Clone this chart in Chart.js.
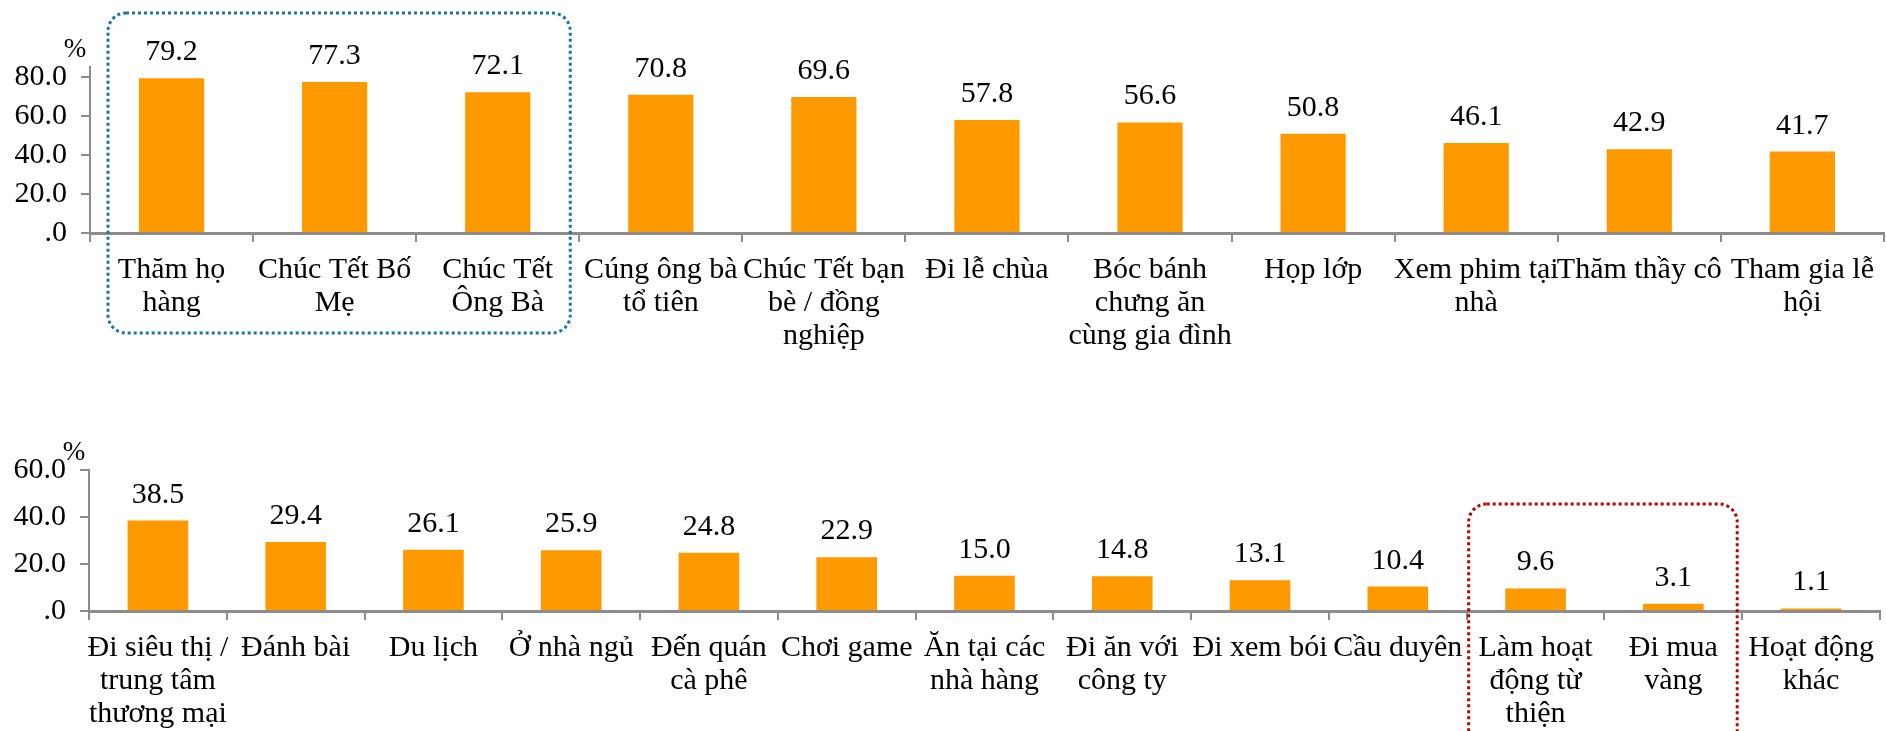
<!DOCTYPE html>
<html>
<head>
<meta charset="utf-8">
<script src="https://cdn.jsdelivr.net/npm/chart.js@4"></script>
<style>
  html, body { margin: 0; padding: 0; background: #fff; overflow: hidden; }
  #wrap { position: relative; width: 1886px; height: 731px; }
  .box { position: absolute; left: 0; width: 1886px; }
</style>
</head>
<body>
<div id="wrap">
  <div class="box" style="top:0;height:400px"><canvas id="chartTop"></canvas></div>
  <div class="box" style="top:400px;height:331px"><canvas id="chartBottom"></canvas></div>
</div>
<script>
// top chart data
const topLabels = [
    ["Thăm họ", "hàng"],
    ["Chúc Tết Bố", "Mẹ"],
    ["Chúc Tết", "Ông Bà"],
    ["Cúng ông bà", "tổ tiên"],
    ["Chúc Tết bạn", "bè / đồng", "nghiệp"],
    ["Đi lễ chùa"],
    ["Bóc bánh", "chưng ăn", "cùng gia đình"],
    ["Họp lớp"],
    ["Xem phim tại", "nhà"],
    ["Thăm thầy cô"],
    ["Tham gia lễ", "hội"]
];
const topValues = [79.2, 77.3, 72.1, 70.8, 69.6, 57.8, 56.6, 50.8, 46.1, 42.9, 41.7];
const topTicks = [0, 20, 40, 60, 80];

// bottom chart data
const bottomLabels = [
    ["Đi siêu thị /", "trung tâm", "thương mại"],
    ["Đánh bài"],
    ["Du lịch"],
    ["Ở nhà ngủ"],
    ["Đến quán", "cà phê"],
    ["Chơi game"],
    ["Ăn tại các", "nhà hàng"],
    ["Đi ăn với", "công ty"],
    ["Đi xem bói"],
    ["Cầu duyên"],
    ["Làm hoạt", "động từ", "thiện"],
    ["Đi mua", "vàng"],
    ["Hoạt động", "khác"]
];
const bottomValues = [38.5, 29.4, 26.1, 25.9, 24.8, 22.9, 15.0, 14.8, 13.1, 10.4, 9.6, 3.1, 1.1];
const bottomTicks = [0, 20, 40, 60];

const topMax = 85;
const bottomMax = 60;

const FONT = "'Liberation Serif', 'Times New Roman', serif";
const AXIS = '#8c8c8c';
const BAR = '#FF9900';

// value labels above bars, plus the % unit and the dotted highlight boxes
const extrasPlugin = {
    id: 'extras',
    afterDatasetsDraw(chart, args, opts) {
        const ctx = chart.ctx;
        const area = chart.chartArea;
        const meta = chart.getDatasetMeta(0);
        ctx.save();
        ctx.fillStyle = '#000';
        ctx.font = '30px ' + FONT;
        ctx.textAlign = 'center';
        ctx.textBaseline = 'alphabetic';
        meta.data.forEach(function (bar, i) {
            const v = chart.data.datasets[0].data[i];
            ctx.fillText(v.toFixed(1), bar.x, bar.y - 18);
        });
        // unit
        ctx.font = '27px ' + FONT;
        ctx.fillText('%', area.left - 15, area.top - 10);

        // dotted box
        if (opts.box) {
            const b = opts.box;
            const xs = chart.scales.x;
            const w = xs.width / chart.data.labels.length;
            const left = xs.getPixelForValue(b.from) - w / 2 + b.padL;
            const right = xs.getPixelForValue(b.to) + w / 2 - b.padR;
            const top = area.top + b.top;
            const bottom = area.bottom + b.bottom;
            ctx.strokeStyle = b.color;
            ctx.lineWidth = 3;
            ctx.setLineDash([3, 3]);
            ctx.beginPath();
            ctx.roundRect(left, top, right - left, bottom - top, 18);
            ctx.stroke();
        }
        ctx.restore();
    }
};

function makeChart(id, labels, values, max, tickValues, opts) {
    const ctx = document.getElementById(id).getContext('2d');
    return new Chart(ctx, {
        type: 'bar',
        data: {
            labels: labels,
            datasets: [{
                data: values,
                backgroundColor: BAR,
                barPercentage: opts.barPct,
                categoryPercentage: 1
            }]
        },
        options: {
            responsive: true,
            maintainAspectRatio: false,
            animation: false,
            layout: { padding: { top: opts.padTop, left: 0, right: 0, bottom: 0 } },
            plugins: {
                legend: { display: false },
                title: { display: false },
                tooltip: { enabled: false },
                extras: { box: opts.box }
            },
            scales: {
                x: {
                    grid: {
                        display: true,
                        drawOnChartArea: false,
                        drawTicks: true,
                        tickLength: 9,
                        color: AXIS,
                        lineWidth: 2
                    },
                    border: { color: AXIS, width: 3 },
                    ticks: {
                        autoSkip: false,
                        maxRotation: 0,
                        minRotation: 0,
                        padding: 12,
                        color: '#000',
                        font: { family: FONT, size: 30, lineHeight: 1.1 }
                    },
                    afterFit: function (scale) { scale.height = opts.xHeight; }
                },
                y: {
                    min: 0,
                    max: max,
                    grid: {
                        display: true,
                        drawOnChartArea: false,
                        drawTicks: true,
                        tickLength: 9,
                        color: AXIS,
                        lineWidth: 2
                    },
                    border: { color: AXIS, width: 2 },
                    afterBuildTicks: function (scale) {
                        scale.ticks = tickValues.map(function (v) { return { value: v }; });
                    },
                    ticks: {
                        padding: 14,
                        color: '#000',
                        font: { family: FONT, size: 30 },
                        callback: function (v) {
                            return v === 0 ? '.0' : v.toFixed(1);
                        }
                    },
                    afterFit: function (scale) { scale.width = opts.yWidth; }
                }
            }
        },
        plugins: [extrasPlugin]
    });
}

makeChart('chartTop', topLabels, topValues, topMax, topTicks, {
    barPct: 0.4,
    padTop: 67,
    xHeight: 167,
    yWidth: 90,
    box: { from: 0, to: 2, padL: 18, padR: 9, top: -54, bottom: 100, color: '#1A76A8' }
});

makeChart('chartBottom', bottomLabels, bottomValues, bottomMax, bottomTicks, {
    barPct: 0.44,
    padTop: 70,
    xHeight: 120,
    yWidth: 89,
    box: { from: 10, to: 11, padL: 2, padR: 5, top: 34, bottom: 140, color: '#C00000' }
});
</script>
</body>
</html>
